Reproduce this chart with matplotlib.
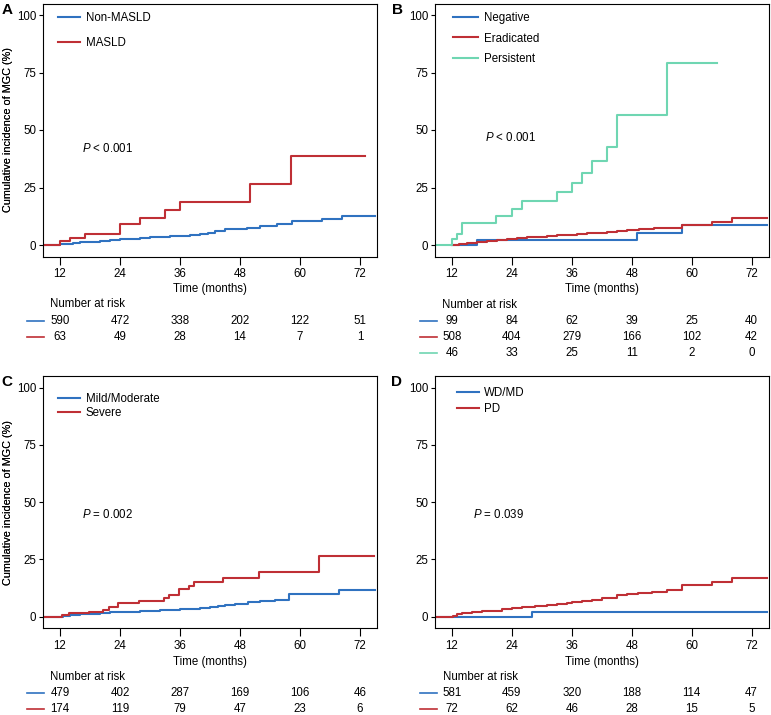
import matplotlib
matplotlib.use('Agg')
import matplotlib.pyplot as plt
from matplotlib.lines import Line2D
from matplotlib.transforms import blended_transform_factory

plt.rcParams['font.family'] = ['Liberation Sans', 'DejaVu Sans']
plt.rcParams['mathtext.fontset'] = 'custom'
plt.rcParams['mathtext.rm'] = 'Liberation Sans'
plt.rcParams['mathtext.it'] = 'Liberation Sans:italic'

# ---------------- data ----------------
tick_times = [12, 24, 36, 48, 60, 72]
y_ticks = [0, 25, 50, 75, 100]

# Panel A
nonmasld_t = [9, 12, 13, 14.5, 16, 18, 20, 22, 24, 26, 28, 30, 32, 34, 36, 38, 40, 41.5, 43, 45, 49.3, 52, 55.3, 58.3, 64.3, 68.3, 75]
nonmasld_v = [0, 0.3, 0.6, 0.9, 1.2, 1.5, 1.8, 2.1, 2.5, 2.8, 3.1, 3.4, 3.6, 3.8, 4.0, 4.3, 4.8, 5.3, 5.9, 6.8, 7.6, 8.2, 9.0, 10.5, 11.3, 12.8, 12.8]
masld_t = [9, 12, 13.9, 16.9, 23.9, 27.9, 32.9, 35.9, 50, 58.1, 73]
masld_v = [0, 1.7, 3.2, 4.9, 9.3, 11.6, 15.1, 18.8, 26.7, 38.7, 38.7]
risk_nonmasld = [590, 472, 338, 202, 122, 51]
risk_masld = [63, 49, 28, 14, 7, 1]

# Panel B
negative_t = [12, 17, 49, 58, 75]
negative_v = [0, 2.3, 5.2, 8.6, 8.6]
eradicated_t = [12, 13.5, 15, 17, 19, 21, 23, 25, 27, 29, 31, 33, 35, 37, 39, 41, 43, 45, 47, 49.5, 52.5, 58, 64, 68, 75]
eradicated_v = [0, 0.6, 1.0, 1.4, 1.8, 2.2, 2.6, 3.0, 3.3, 3.6, 3.9, 4.2, 4.5, 4.8, 5.1, 5.4, 5.8, 6.1, 6.4, 6.8, 7.4, 8.9, 10.1, 11.8, 11.8]
persistent_t = [8.7, 12, 13, 14.1, 20.9, 24, 26, 33, 36, 38.1, 40.1, 43, 45.1, 55.1, 65]
persistent_v = [0, 2.5, 4.7, 9.7, 12.6, 15.5, 19.0, 22.9, 27.1, 31.4, 36.7, 42.5, 56.7, 79.0, 79.0]
risk_negative = [99, 84, 62, 39, 25, 40]
risk_eradicated = [508, 404, 279, 166, 102, 42]
risk_persistent = [46, 33, 25, 11, 2, 0]

# Panel C
mild_t = [9, 12.5, 14, 16, 18, 20, 22, 24, 26, 28, 30, 32, 34, 36, 38, 40, 42, 43.5, 45, 47, 49.5, 52, 55, 57.7, 67.7, 75]
mild_v = [0, 0.3, 0.7, 1.0, 1.3, 1.6, 1.8, 2.0, 2.2, 2.4, 2.6, 2.8, 3.0, 3.2, 3.4, 3.6, 4.0, 4.5, 5.2, 5.6, 6.3, 6.8, 7.3, 9.8, 11.4, 11.4]
severe_t = [9, 12.3, 13.7, 17.7, 20.5, 21.7, 23.5, 27.7, 32.7, 33.7, 35.7, 37.7, 38.7, 44.6, 51.7, 63.7, 74.7]
severe_v = [0, 0.6, 1.6, 2.2, 2.8, 4.2, 6.1, 7.0, 8.0, 9.5, 11.9, 13.4, 15.0, 16.7, 19.5, 26.6, 26.6]
risk_mild = [479, 402, 287, 169, 106, 46]
risk_severe = [174, 119, 79, 47, 23, 6]

# Panel D
wdmd_t = [8.7, 28, 75]
wdmd_v = [0, 1.9, 1.9]
pd_t = [8.7, 12.3, 13, 14, 16, 18, 20, 22, 24, 26, 28.7, 31, 33, 35, 36, 38, 40, 42, 45, 47, 49.3, 52, 55, 58, 64, 68, 75]
pd_v = [0, 0.4, 1.0, 1.5, 1.9, 2.3, 2.6, 3.1, 3.6, 4.0, 4.4, 4.9, 5.4, 5.9, 6.3, 6.8, 7.3, 7.9, 9.2, 9.7, 10.2, 10.9, 11.6, 13.8, 15.0, 16.7, 16.7]
risk_wdmd = [581, 459, 320, 188, 114, 47]
risk_pd = [72, 62, 46, 28, 15, 5]

BLUE = '#2f72c0'
RED = '#bf2f35'
GREEN = '#6fd6b2'

# ---------------- layout ----------------
W, H = 771, 715
fig = plt.figure(figsize=(W / 100, H / 100), dpi=100)


def fx(px):
    return px / W


def fy(py):
    return 1 - py / H


panels = [
    dict(letter='A', letter_xy=(6.7, 9.5), box=(43, 377, 3.5, 256.5),
         curves=[('Non-MASLD', nonmasld_t, nonmasld_v, BLUE, risk_nonmasld),
                 ('MASLD', masld_t, masld_v, RED, risk_masld)],
         leg_xy=(58, 12), leg_spacing=1.12, leg_hl=1.95,
         ptext=r'$P$ < 0.001', pxy=(16.3, 42),
         tick_y=273, xlab_y=289, nar_x=50, nar_y=304, rows_y=[321, 337.3], mark_x=(27.3, 44)),
    dict(letter='B', letter_xy=(397.5, 9.5), box=(435, 768.5, 3.5, 256.5),
         curves=[('Negative', negative_t, negative_v, BLUE, risk_negative),
                 ('Eradicated', eradicated_t, eradicated_v, RED, risk_eradicated),
                 ('Persistent', persistent_t, persistent_v, GREEN, risk_persistent)],
         leg_xy=(453, 12), leg_spacing=0.74, leg_hl=2.2,
         ptext=r'$P$ < 0.001', pxy=(18.7, 46.8),
         tick_y=273, xlab_y=289.3, nar_x=442.3, nar_y=305, rows_y=[321, 336.7, 352.7], mark_x=(420, 436.7)),
    dict(letter='C', letter_xy=(6.7, 381.7), box=(43, 377, 376.2, 628),
         curves=[('Mild/Moderate', mild_t, mild_v, BLUE, risk_mild),
                 ('Severe', severe_t, severe_v, RED, risk_severe)],
         leg_xy=(58, 393), leg_spacing=0.2, leg_hl=1.95,
         ptext=r'$P$ = 0.002', pxy=(16.3, 44.4),
         tick_y=645, xlab_y=661.7, nar_x=50, nar_y=677.3, rows_y=[692.7, 708.7], mark_x=(27.3, 44)),
    dict(letter='D', letter_xy=(396.7, 381.7), box=(435, 768.5, 376.2, 628),
         curves=[('WD/MD', wdmd_t, wdmd_v, BLUE, risk_wdmd),
                 ('PD', pd_t, pd_v, RED, risk_pd)],
         leg_xy=(456.7, 387.5), leg_spacing=0.29, leg_hl=1.9,
         ptext=r'$P$ = 0.039', pxy=(16.3, 44.4),
         tick_y=645, xlab_y=661.7, nar_x=443.3, nar_y=677.3, rows_y=[692.7, 708.7], mark_x=(420, 436.7)),
]

XLIM = (8.6, 75.4)
YLIM = (-5, 105)
FS = 8.3

for p in panels:
    l, r, t, b = p['box']
    ax = fig.add_axes([fx(l), fy(b), (r - l) / W, (b - t) / H])
    handles = []
    for label, tt, vv, col, _ in p['curves']:
        h, = ax.step(tt, vv, where='post', color=col, lw=1.5, label=label)
        handles.append(h)
    ax.set_xlim(*XLIM)
    ax.set_ylim(*YLIM)
    ax.set_xticks(tick_times)
    ax.set_xticklabels([str(v) for v in tick_times])
    ax.set_yticks(y_ticks)
    ax.tick_params(axis='x', direction='out', length=5.5, width=0.8, pad=3, labelsize=FS, colors='black')
    ax.tick_params(axis='y', direction='out', length=3, width=0.8, pad=2, labelsize=FS, colors='black')
    for s in ax.spines.values():
        s.set_linewidth(0.8)
        s.set_color('black')
    ax.set_ylabel('Cumulative incidence of MGC (%)', fontsize=7.8)
    ax.yaxis.set_label_coords((8.5 - l) / (r - l), 0.5)
    ax.yaxis.label.set_va('center')
    ax.set_xlabel('Time (months)', fontsize=FS)
    ax.xaxis.set_label_coords(0.5, (b - p['xlab_y']) / (b - t))
    ax.xaxis.label.set_va('center')

    lx, ly = p['leg_xy']
    ax.legend(handles=handles, loc='upper left',
              bbox_to_anchor=((lx - l) / (r - l), (b - ly) / (b - t)),
              frameon=False, fontsize=FS, borderpad=0, borderaxespad=0,
              handlelength=p['leg_hl'], handletextpad=0.45,
              labelspacing=p['leg_spacing'])

    px, py = p['pxy']
    ax.text(px, py, p['ptext'], ha='left', va='center', fontsize=FS)

    fig.text(fx(p['letter_xy'][0]), fy(p['letter_xy'][1]), p['letter'],
             fontsize=11, fontweight='bold', ha='center', va='center')

    # risk table
    fig.text(fx(p['nar_x']), fy(p['nar_y']), 'Number at risk', fontsize=FS,
             ha='left', va='center')
    trans = blended_transform_factory(ax.transData, fig.transFigure)
    for (label, tt, vv, col, risk), ry in zip(p['curves'], p['rows_y']):
        m0, m1 = p['mark_x']
        fig.add_artist(Line2D([fx(m0), fx(m1)], [fy(ry), fy(ry)],
                              transform=fig.transFigure, color=col, lw=1.2))
        for tm, n in zip(tick_times, risk):
            ax.text(tm, fy(ry), str(n), transform=trans, ha='center',
                    va='center', fontsize=FS, clip_on=False)

fig.savefig('out.png', dpi=100)
